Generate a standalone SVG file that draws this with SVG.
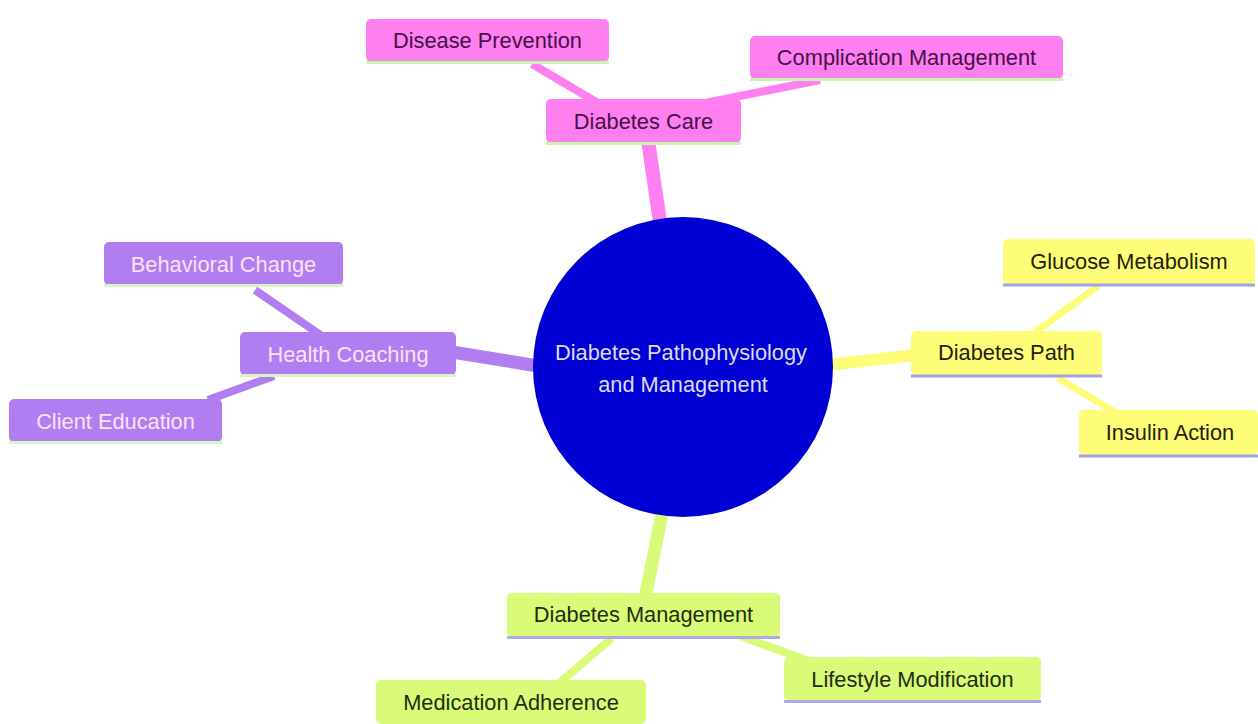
<svg xmlns="http://www.w3.org/2000/svg" width="1258" height="724" viewBox="0 0 1258 724">
<style>
text{font-family:"Liberation Sans",Arial,sans-serif;font-size:21.8px;text-anchor:middle;dominant-baseline:central}
.pink rect{fill:#fd7ff0}
.pink text{fill:#4a0f4a}
.pink line{stroke:#c8f5b0}
.yel rect{fill:#fdfd78}
.yel text{fill:#22220a}
.yel line{stroke:#a8a0e4}
.pur rect{fill:#b17ef2}
.pur text{fill:#fbe0f6}
.pur line{stroke:#d8f5c8}
.grn rect{fill:#d9fb78}
.grn text{fill:#1e3010}
.grn line{stroke:#b0a8e8}
.node line{stroke-width:3}
.e-pink{stroke:#fd7ff0}
.e-yel{stroke:#fdfd78}
.e-pur{stroke:#b17ef2}
.e-grn{stroke:#d9fb78}
</style>
<rect width="1258" height="724" fill="#ffffff"/>
<g id="connectors" stroke-linecap="butt" fill="none">
<line class="e-pink" x1="660" y1="222" x2="648" y2="140" stroke-width="14"/>
<line class="e-yel" x1="828" y1="365" x2="915" y2="355" stroke-width="12"/>
<line class="e-pur" x1="538" y1="366" x2="452" y2="352" stroke-width="13"/>
<line class="e-grn" x1="662" y1="514" x2="645" y2="598" stroke-width="13"/>
<line class="e-pink" x1="532" y1="64" x2="598" y2="103" stroke-width="8"/>
<line class="e-pink" x1="820" y1="80" x2="700" y2="104" stroke-width="8"/>
<line class="e-yel" x1="1098" y1="286" x2="1030" y2="336" stroke-width="7"/>
<line class="e-yel" x1="1058" y1="378" x2="1118" y2="414" stroke-width="7"/>
<line class="e-pur" x1="255" y1="290" x2="322" y2="336" stroke-width="8"/>
<line class="e-pur" x1="274" y1="376" x2="208" y2="400" stroke-width="8"/>
<line class="e-grn" x1="612" y1="638" x2="558" y2="684" stroke-width="8"/>
<line class="e-grn" x1="740" y1="636" x2="812" y2="662" stroke-width="8"/>
</g>
<g id="root">
<circle cx="683" cy="367" r="150" fill="#0000d4"/>
<text x="681" y="352" fill="#dcdcf6">Diabetes Pathophysiology</text>
<text x="683" y="384" fill="#dcdcf6">and Management</text>
</g>
<g id="diabetes-care" class="node pink"><rect x="546" y="99" width="195" height="44" rx="5"/><line x1="546" y1="143.5" x2="741" y2="143.5"/><text x="643.5" y="121">Diabetes Care</text></g>
<g id="disease-prevention" class="node pink"><rect x="366" y="19" width="243" height="43" rx="5"/><line x1="366" y1="62.5" x2="609" y2="62.5"/><text x="487.5" y="40">Disease Prevention</text></g>
<g id="complication-management" class="node pink"><rect x="750" y="36" width="313" height="43" rx="5"/><line x1="750" y1="79.5" x2="1063" y2="79.5"/><text x="906.5" y="57">Complication Management</text></g>
<g id="diabetes-path" class="node yel"><rect x="911" y="331" width="191" height="44" rx="5"/><line x1="911" y1="376" x2="1102" y2="376"/><text x="1006.5" y="352">Diabetes Path</text></g>
<g id="glucose-metabolism" class="node yel"><rect x="1003" y="239" width="252" height="45" rx="5"/><line x1="1003" y1="285" x2="1255" y2="285"/><text x="1129" y="261">Glucose Metabolism</text></g>
<g id="insulin-action" class="node yel"><rect x="1079" y="410" width="179" height="45" rx="5"/><line x1="1079" y1="456" x2="1258" y2="456"/><text x="1170" y="432">Insulin Action</text></g>
<g id="health-coaching" class="node pur"><rect x="240" y="332" width="216" height="43" rx="5"/><line x1="240" y1="375.5" x2="456" y2="375.5"/><text x="348" y="354">Health Coaching</text></g>
<g id="behavioral-change" class="node pur"><rect x="104" y="242" width="239" height="43" rx="5"/><line x1="104" y1="285.5" x2="343" y2="285.5"/><text x="223.5" y="264">Behavioral Change</text></g>
<g id="client-education" class="node pur"><rect x="9" y="399" width="213" height="43" rx="5"/><line x1="9" y1="442.5" x2="222" y2="442.5"/><text x="115.5" y="421">Client Education</text></g>
<g id="diabetes-management" class="node grn"><rect x="507" y="593" width="273" height="44" rx="5"/><line x1="507" y1="637.5" x2="780" y2="637.5"/><text x="643.5" y="614">Diabetes Management</text></g>
<g id="medication-adherence" class="node grn"><rect x="376" y="680" width="270" height="44" rx="5"/><text x="511" y="702">Medication Adherence</text></g>
<g id="lifestyle-modification" class="node grn"><rect x="784" y="657" width="257" height="44" rx="5"/><line x1="784" y1="701.5" x2="1041" y2="701.5"/><text x="912.5" y="679">Lifestyle Modification</text></g>
</svg>
